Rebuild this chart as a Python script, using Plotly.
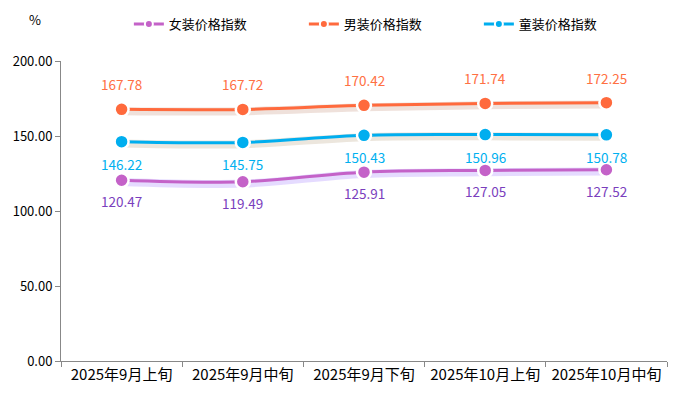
import plotly.graph_objects as go

categories = ["2025年9月上旬", "2025年9月中旬", "2025年9月下旬", "2025年10月上旬", "2025年10月中旬"]
women = [120.47, 119.49, 125.91, 127.05, 127.52]
men = [167.78, 167.72, 170.42, 171.74, 172.25]
kids = [146.22, 145.75, 150.43, 150.96, 150.78]
y_ticks = [0, 50, 100, 150, 200]

series = [
    ("女装价格指数", women, "#c462c8", "#7a3ebd", "rgba(150,110,255,0.25)", -21),
    ("男装价格指数", men, "#ff6a3d", "#ff7043", "rgba(180,120,90,0.22)", 25),
    ("童装价格指数", kids, "#00aeef", "#00b0f0", "rgba(170,140,100,0.22)", -22),
]

fig = go.Figure()
font = "Noto Sans CJK SC, Microsoft YaHei, sans-serif"

# shadow lines
for name, vals, col, tcol, shadow, shift in series:
    fig.add_trace(go.Scatter(
        x=categories, y=[v - 1.2 for v in vals], mode="lines",
        line=dict(color=shadow, width=8, shape="spline"),
        hoverinfo="skip", showlegend=False))

for name, vals, col, tcol, shadow, shift in series:
    fig.add_trace(go.Scatter(
        x=categories, y=vals, name=name, mode="lines+markers",
        line=dict(color=col, width=3, shape="spline"),
        marker=dict(size=14, color=col, line=dict(color="white", width=2.5)),
        showlegend=False,
    ))
    for c, v in zip(categories, vals):
        fig.add_annotation(x=c, y=v, text=f"{v:.2f}", showarrow=False, yshift=shift,
                           font=dict(color=tcol, size=13.5, family=font))

# legend-only entries
for name, vals, col, tcol, shadow, shift in series:
    fig.add_trace(go.Scatter(
        x=[None], y=[None], name=name, mode="lines+markers",
        line=dict(color=col, width=3),
        marker=dict(size=8, color=col, line=dict(color="white", width=2)),
    ))

fig.add_annotation(xref="paper", yref="paper", x=-0.0429, y=1.137, text="%",
                   xanchor="center", yanchor="middle",
                   showarrow=False, font=dict(size=13, color="#000", family=font))

fig.update_layout(
    width=674, height=387,
    margin=dict(l=53, r=15, t=53, b=34, autoexpand=False),
    paper_bgcolor="white", plot_bgcolor="white",
    font=dict(family=font, size=13, color="#000"),
    legend=dict(orientation="h", x=0.112, xanchor="left", y=1.123, yanchor="middle",
                font=dict(size=13, color="#000"), itemwidth=30,
                entrywidth=130, entrywidthmode="pixels"),
    showlegend=True,
)
fig.update_yaxes(range=[0, 200], tickvals=y_ticks, tickformat=".2f",
                 showgrid=False, zeroline=False, showline=True, linecolor="#888",
                 linewidth=1, ticks="outside", tickcolor="#888", ticklen=5,
                 tickfont=dict(size=13, color="#000"))
fig.update_xaxes(type="category", range=[-0.5, 4.5], showgrid=False, showline=True,
                 linecolor="#888", linewidth=1, ticks="outside", tickson="boundaries",
                 tickcolor="#888", ticklen=5, tickfont=dict(size=15, color="#000"))

fig.write_html("out.html")
